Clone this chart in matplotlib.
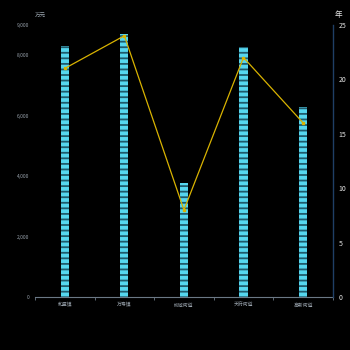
import numpy as np
import matplotlib.pyplot as plt

plt.rcParams['font.family'] = ['Noto Sans CJK SC', 'DejaVu Sans']
plt.rcParams['hatch.linewidth'] = 1.3

towns = ['和盛镇', '万寿镇', '柳城街道', '天府街道', '高新街道']
amount = [8300, 8700, 3770, 8270, 6290]   # 万元
years = [21, 24, 8, 22, 16]               # 年

fig = plt.figure(figsize=(3.5, 3.5), dpi=100, facecolor='black')
ax = fig.add_axes([0.1, 0.151, 0.851, 0.778], facecolor='black')
x = np.arange(len(towns))

ax.bar(x, amount, width=0.135, color='#55d6ee', edgecolor='#1f5a6b',
       hatch='---', linewidth=0)
ax.set_xlim(-0.5, len(towns) - 0.5)
ax.set_ylim(0, 9000)
ax.set_yticks([0, 2000, 4000, 6000, 8000, 9000])
ax.set_yticklabels(['0', '2,000', '4,000', '6,000', '8,000', '9,000'])
ax.tick_params(axis='y', length=0, labelsize=3.5, colors='#9aa4ae', pad=4)
ax.set_xticks(x)
ax.set_xticklabels(towns)
ax.set_xticks(np.arange(-0.5, len(towns)), minor=True)
ax.tick_params(axis='x', which='major', length=0, labelsize=3.5, colors='#9aa4ae', pad=4)
ax.tick_params(axis='x', which='minor', length=2, color='#6b7885', width=0.6)
for s in ['top', 'right', 'left']:
    ax.spines[s].set_visible(False)
ax.spines['bottom'].set_color('#6b7885')
ax.spines['bottom'].set_linewidth(0.8)
ax.text(0.0, 1.03, '万元', transform=ax.transAxes, fontsize=4, color='#9aa4ae', ha='left')

ax2 = ax.twinx()
ax2.plot(x, years, color='#d9b300', linewidth=0.9, marker='s', markersize=1.6)
ax2.set_ylim(0, 25)
ax2.set_yticks([0, 5, 10, 15, 20, 25])
ax2.tick_params(axis='y', length=0, labelsize=5, colors='#e6e6e6', pad=4)
for s in ['top', 'left', 'bottom']:
    ax2.spines[s].set_visible(False)
ax2.spines['right'].set_color('#1f3f66')
ax2.spines['right'].set_linewidth(1)
ax2.text(1.005, 1.03, '年', transform=ax2.transAxes, fontsize=5.5, color='#e6e6e6', ha='left')

fig.savefig('out.png', dpi=100, facecolor='black')
